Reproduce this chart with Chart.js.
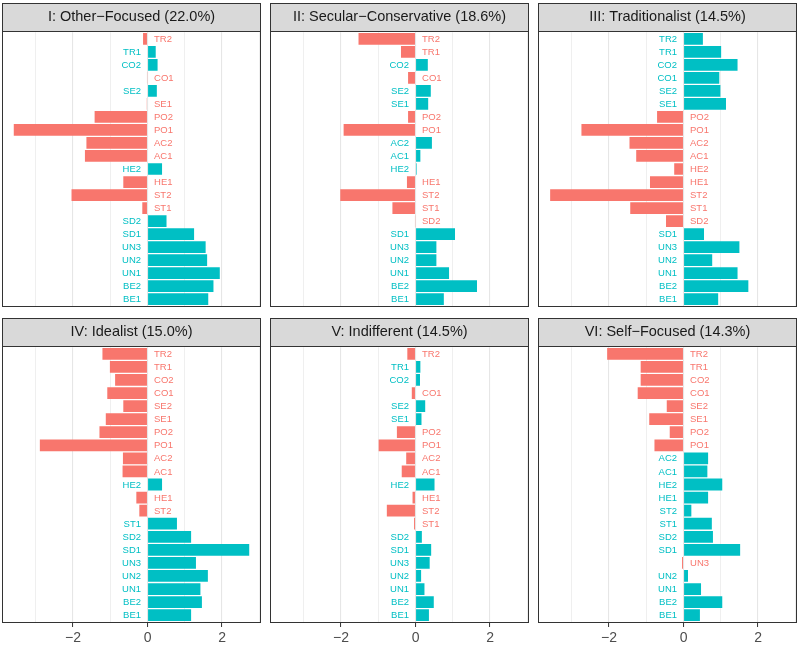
<!DOCTYPE html>
<html><head><meta charset="utf-8">
<script src="https://cdn.jsdelivr.net/npm/chart.js@4.4.1/dist/chart.umd.min.js"></script>
<style>
html,body{margin:0;padding:0;background:#fff;overflow:hidden;width:799px;height:646px;position:relative;}
canvas{position:absolute;}
</style></head><body>
<script>
const categories = ['TR2','TR1','CO2','CO1','SE2','SE1','PO2','PO1','AC2','AC1','HE2','HE1','ST2','ST1','SD2','SD1','UN3','UN2','UN1','BE2','BE1'];
const panelTitles = ['I: Other\u2212Focused (22.0%)','II: Secular\u2212Conservative (18.6%)','III: Traditionalist (14.5%)','IV: Idealist (15.0%)','V: Indifferent (14.5%)','VI: Self\u2212Focused (14.3%)'];
const otherFocused        = [-0.12, 0.22, 0.27, -0.01, 0.25, -0.02, -1.42, -3.59, -1.64, -1.68, 0.39, -0.65, -2.04, -0.14, 0.51, 1.25, 1.56, 1.60, 1.94, 1.77, 1.63];
const secularConservative = [-1.53, -0.39, 0.33, -0.20, 0.41, 0.34, -0.20, -1.93, 0.44, 0.13, 0.03, -0.23, -2.02, -0.62, -0.01, 1.06, 0.56, 0.56, 0.90, 1.65, 0.76];
const traditionalist      = [0.52, 1.01, 1.45, 0.96, 0.99, 1.14, -0.71, -2.74, -1.45, -1.27, -0.25, -0.90, -3.58, -1.43, -0.47, 0.55, 1.50, 0.77, 1.45, 1.74, 0.93];
const idealist            = [-1.21, -1.01, -0.87, -1.08, -0.65, -1.12, -1.29, -2.89, -0.66, -0.67, 0.39, -0.30, -0.22, 0.79, 1.17, 2.73, 1.30, 1.62, 1.42, 1.46, 1.17];
const indifferent         = [-0.22, 0.13, 0.12, -0.10, 0.26, 0.16, -0.50, -0.99, -0.25, -0.37, 0.51, -0.08, -0.77, -0.04, 0.17, 0.42, 0.38, 0.15, 0.24, 0.49, 0.36];
const selfFocused         = [-2.05, -1.15, -1.15, -1.23, -0.45, -0.92, -0.37, -0.78, 0.66, 0.64, 1.04, 0.66, 0.21, 0.76, 0.79, 1.52, -0.04, 0.12, 0.47, 1.04, 0.44];
const xTickValues = [-3, -2, -1, 0, 1, 2, 3];
const xTickLabels = {'-2': '\u22122', '0': '0', '2': '2'};

const panelSeries = [otherFocused, secularConservative, traditionalist, idealist, indifferent, selfFocused];

const RED = '#F8766D', TEAL = '#00BFC4';
const FONT = '"Liberation Sans", Arial, Helvetica, sans-serif';
const colLeft = [2, 270, 538];
const stripTop = [3, 318];
const panelW = 259;
const panelH = [276, 277];
const stripH = 28;

const allVals = panelSeries.flat();
const dMin = Math.min(...allVals), dMax = Math.max(...allVals);
const pad = (dMax - dMin) * 0.05;
const xMin = dMin - pad, xMax = dMax + pad;

const decor = {
  id: 'decor',
  beforeDraw(chart, args, o) {
    const ctx = chart.ctx, ca = chart.chartArea;
    ctx.save();
    ctx.fillStyle = '#D9D9D9';
    ctx.fillRect(ca.left, 2, ca.right - ca.left, stripH);
    ctx.restore();
  },
  afterDatasetsDraw(chart, args, o) {
    const ctx = chart.ctx;
    const meta = chart.getDatasetMeta(0);
    const x0 = chart.scales.x.getPixelForValue(0);
    const vals = chart.data.datasets[0].data;
    ctx.save();
    ctx.font = '9.5px ' + FONT;
    ctx.textBaseline = 'middle';
    meta.data.forEach((bar, j) => {
      const pos = vals[j] >= 0;
      ctx.fillStyle = pos ? TEAL : RED;
      ctx.textAlign = pos ? 'right' : 'left';
      ctx.fillText(chart.data.labels[j], pos ? x0 - 6.5 : x0 + 6.5, bar.y + 0.5);
    });
    ctx.restore();
  },
  afterDraw(chart, args, o) {
    const ctx = chart.ctx, ca = chart.chartArea;
    const L = Math.round(ca.left), R = Math.round(ca.right);
    const T = 2, S = 2 + stripH, B = 2 + stripH + o.ph;
    ctx.save();
    ctx.strokeStyle = '#333333';
    ctx.lineWidth = 1;
    ctx.strokeRect(L + 0.5, T + 0.5, R - L - 1, B - T - 1);
    ctx.beginPath();
    ctx.moveTo(L, S + 0.5); ctx.lineTo(R, S + 0.5);
    ctx.stroke();
    ctx.restore();
  }
};

function makePanel(i) {
  const col = i % 3, row = Math.floor(i / 3);
  const isBottom = row === 1;
  const ph = panelH[row];
  const e = ph / 212;
  const axH = isBottom ? 28 + e : e;
  const cw = panelW + 4;
  const ch = 2 + stripH + ph + (isBottom ? 28 : 2);
  const c = document.createElement('canvas');
  c.width = cw; c.height = ch;
  c.style.left = (colLeft[col] - 2) + 'px';
  c.style.top = (stripTop[row] - 2) + 'px';
  c.style.width = cw + 'px'; c.style.height = ch + 'px';
  document.body.appendChild(c);
  const values = panelSeries[i];
  const lh = 14.5 * 1.2;
  new Chart(c, {
    type: 'bar',
    data: {
      labels: categories,
      datasets: [{
        data: values,
        backgroundColor: values.map(v => v >= 0 ? TEAL : RED),
        borderWidth: 0,
        barPercentage: 0.9,
        categoryPercentage: 1.0
      }]
    },
    options: {
      indexAxis: 'y',
      responsive: false,
      animation: false,
      devicePixelRatio: 1,
      events: [],
      layout: { autoPadding: false, padding: { top: 2, left: 2, right: 2, bottom: isBottom ? 0 : 2 } },
      plugins: {
        legend: { display: false },
        tooltip: { enabled: false },
        title: {
          display: true,
          text: panelTitles[i],
          color: '#1A1A1A',
          font: { family: FONT, size: 14.5, weight: 'normal', lineHeight: 1.2 },
          padding: { top: (stripH - lh) / 2, bottom: (stripH - lh) / 2 + e }
        },
        decor: { ph: ph }
      },
      scales: {
        x: {
          type: 'linear',
          min: xMin, max: xMax,
          afterBuildTicks: s => { s.ticks = xTickValues.map(v => ({ value: v })); },
          afterFit: s => { s.height = axH; },
          border: { display: false },
          grid: {
            color: ctx => (ctx.tick && ctx.tick.value % 2 === 0) ? '#E6E6E6' : '#EDEDED',
            lineWidth: ctx => (ctx.tick && ctx.tick.value % 2 === 0) ? 1.1 : 0.9,
            drawTicks: isBottom,
            tickLength: 4 + e,
            tickWidth: 1,
            tickColor: ctx => (ctx.tick && ctx.tick.value % 2 === 0) ? '#333333' : 'rgba(0,0,0,0)'
          },
          ticks: {
            display: isBottom,
            autoSkip: false,
            maxRotation: 0,
            padding: 3,
            color: '#4D4D4D',
            font: { family: FONT, size: 14 },
            callback: v => xTickLabels[String(v)] ?? ''
          }
        },
        y: {
          type: 'category',
          display: false,
          offset: true,
          grid: { display: false }
        }
      }
    },
    plugins: [decor]
  });
}
for (let i = 0; i < 6; i++) makePanel(i);
</script>
</body></html>
